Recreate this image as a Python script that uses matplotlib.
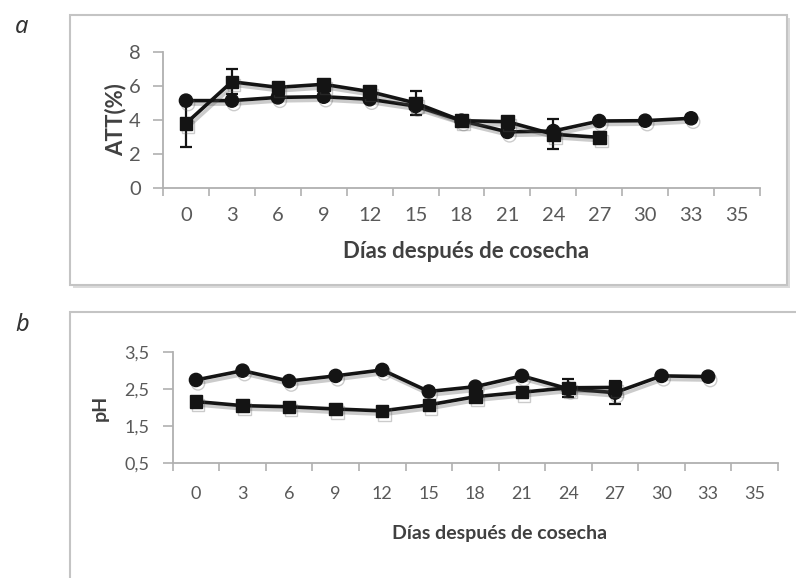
import matplotlib
matplotlib.use("Agg")
import matplotlib.pyplot as plt
import matplotlib.patheffects as pe
from matplotlib.patches import Rectangle
import numpy as np

# category axis (Excel style): every label is one slot
categorias = ["0", "3", "6", "9", "12", "15", "18", "21", "24", "27", "30", "33", "35"]

# panel a: titratable acidity
dias_att_circ = [0, 3, 6, 9, 12, 15, 18, 21, 24, 27, 30, 33]
att_circ = [5.14, 5.14, 5.33, 5.37, 5.22, 4.82, 3.96, 3.3, 3.35, 3.94, 3.96, 4.1]
att_circ_err = [0, 0, 0, 0, 0, 0, 0, 0, 0, 0, 0.15, 0.2]
dias_att_cuad = [0, 3, 6, 9, 12, 15, 18, 21, 24, 27]
att_cuad = [3.8, 6.25, 5.92, 6.1, 5.67, 5.0, 3.96, 3.9, 3.16, 2.98]
att_cuad_err = [1.4, 0.73, 0, 0, 0, 0.73, 0, 0, 0.88, 0]

# panel b: pH
dias_ph_circ = [0, 3, 6, 9, 12, 15, 18, 21, 24, 27, 30, 33]
ph_circ = [2.74, 2.99, 2.71, 2.85, 3.01, 2.43, 2.56, 2.85, 2.5, 2.4, 2.85, 2.83]
ph_circ_err = [0, 0, 0, 0, 0, 0, 0, 0, 0, 0.31, 0, 0]
dias_ph_cuad = [0, 3, 6, 9, 12, 15, 18, 21, 24, 27]
ph_cuad = [2.16, 2.05, 2.02, 1.96, 1.91, 2.07, 2.29, 2.41, 2.53, 2.54]
ph_cuad_err = [0, 0, 0, 0, 0, 0, 0, 0, 0.24, 0]

W, H = 796, 578
GRIS_EJE = "#b0b0b0"
GRIS_TXT = "#595959"
GRIS_TIT = "#404040"
LINEA = "#141414"

plt.rcParams["font.family"] = ["Lato", "DejaVu Sans"]

fig = plt.figure(figsize=(W / 100, H / 100), dpi=100)


def px_rect(x0, y0, x1, y1):
    # pixel box (top-left origin) -> figure fraction [l, b, w, h]
    return [x0 / W, 1 - y1 / H, (x1 - x0) / W, (y1 - y0) / H]


sombra = [pe.SimpleLineShadow(offset=(1.5, -2.5), shadow_color="#555555", alpha=0.3),
          pe.Normal()]


def serie(ax, dias, vals, err, marker):
    x = [categorias.index(str(d)) + 0.5 for d in dias]
    ax.errorbar(x, vals, yerr=err, fmt="none", ecolor=LINEA, elinewidth=1.6,
                capsize=4.5, capthick=1.6, zorder=3)
    ax.plot(x, vals, color=LINEA, lw=2.6, marker=marker, ms=9.5 if marker == "o" else 9,
            mfc=LINEA, mec=LINEA, zorder=4, path_effects=sombra)


def ejes(ax, yticks, ylabels, ylim, ylabel, ypad, xpad, fs_tick, fs_tit):
    n = len(categorias)
    ax.set_xlim(0, n)
    ax.set_ylim(*ylim)
    for s in ("top", "right"):
        ax.spines[s].set_visible(False)
    for s in ("left", "bottom"):
        ax.spines[s].set_color(GRIS_EJE)
        ax.spines[s].set_linewidth(1.3)
    ax.set_xticks(np.arange(n + 1))
    ax.set_xticklabels([])
    ax.set_xticks(np.arange(n) + 0.5, minor=True)
    ax.set_xticklabels(categorias, minor=True)
    ax.tick_params(axis="x", which="major", length=6, width=1.2, color=GRIS_EJE, direction="out")
    ax.tick_params(axis="x", which="minor", length=0, pad=xpad, labelsize=fs_tick,
                   labelcolor=GRIS_TXT)
    ax.set_yticks(yticks)
    ax.set_yticklabels(ylabels)
    ax.tick_params(axis="y", length=7, width=1.2, color=GRIS_EJE, direction="out",
                   labelsize=fs_tick, labelcolor=GRIS_TXT, pad=ypad)
    ax.set_ylabel(ylabel, fontsize=fs_tit, fontweight="bold", color=GRIS_TIT, va="center")
    ax.set_xlabel("Días después de cosecha", fontsize=fs_tit, fontweight="bold", color=GRIS_TIT,
                  va="center")


# framed boxes around each panel
for (x0, y0, x1, y1) in [(70, 15, 787, 285), (70, 312, 800, 590)]:
    l, b, w, h = px_rect(x0, y0, x1, y1)
    rect = Rectangle((l, b), w, h, transform=fig.transFigure, facecolor="white",
                     edgecolor="#c4c4c4", lw=1.5, zorder=-5,
                     path_effects=[pe.SimplePatchShadow(offset=(2, -2), shadow_rgbFace="#999999",
                                                        alpha=0.35), pe.Normal()])
    fig.patches.append(rect)

# panel a
ax1 = fig.add_axes(px_rect(163, 52, 760, 188))
ax1.patch.set_alpha(0)
ejes(ax1, [0, 2, 4, 6, 8], ["0", "2", "4", "6", "8"], (0, 8), "ATT(%)", 9, 14, 14.5, 16)
serie(ax1, dias_att_circ, att_circ, att_circ_err, "o")
serie(ax1, dias_att_cuad, att_cuad, att_cuad_err, "s")
ax1.xaxis.set_label_coords((466 - 163) / (760 - 163), -(252 - 188) / (188 - 52))
ax1.yaxis.set_label_coords(-(163 - 116) / (760 - 163), 0.5)

# panel b
ax2 = fig.add_axes(px_rect(172.7, 351.7, 778, 463.3))
ax2.patch.set_alpha(0)
ejes(ax2, [0.5, 1.5, 2.5, 3.5], ["0,5", "1,5", "2,5", "3,5"], (0.5, 3.5), "pH", 10, 16,
     13, 14)
serie(ax2, dias_ph_circ, ph_circ, ph_circ_err, "o")
serie(ax2, dias_ph_cuad, ph_cuad, ph_cuad_err, "s")
ax2.xaxis.set_label_coords((500 - 172.7) / (778 - 172.7), -(533 - 463.3) / (463.3 - 351.7))
ax2.yaxis.set_label_coords(-(172.7 - 100) / (778 - 172.7), 0.5)

# panel letters
fig.text(15 / W, 1 - 27 / H, "a", fontsize=17, style="italic", color="#333333",
         family=["Noto Sans", "DejaVu Sans"], va="center")
fig.text(15 / W, 1 - 325 / H, "b", fontsize=17, style="italic", color="#333333",
         family=["Noto Sans", "DejaVu Sans"], va="center")

fig.savefig("out.png", dpi=100)
